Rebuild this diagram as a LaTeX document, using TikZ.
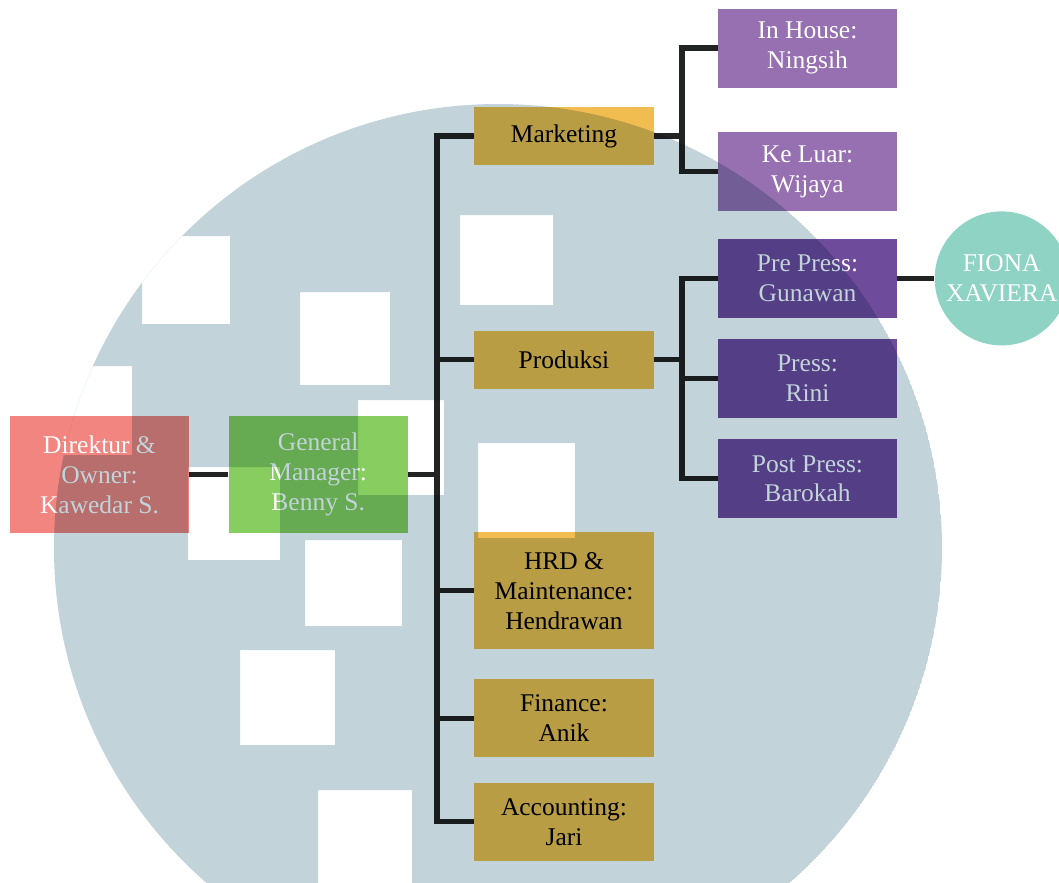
\documentclass[tikz,border=0pt]{standalone}
\usepackage{fontspec}
\setmainfont{Liberation Serif}
\usetikzlibrary{positioning}
\definecolor{ownerred}{HTML}{F2857F}
\definecolor{gmgreen}{HTML}{87CD5F}
\definecolor{deptgold}{HTML}{F2BD50}
\definecolor{mktpurple}{HTML}{9670B0}
\definecolor{prodpurple}{HTML}{6F4B9C}
\definecolor{staffteal}{HTML}{8FD3C4}
\definecolor{linkgrey}{HTML}{222424}
\definecolor{markblue}{HTML}{C2D4DA}
\tikzset{orgbox/.style={
        rectangle,
        inner sep=0pt,
        align=center,
        font=\fontsize{14.5}{17}\selectfont
}}
\tikzset{headbox/.style={
        orgbox,
        minimum width=3.58cm,
        minimum height=2.34cm,
        text=white
}}
\tikzset{deptbox/.style={
        orgbox,
        fill=deptgold,
        minimum width=3.6cm,
        text=black
}}
\tikzset{unitbox/.style={
        orgbox,
        minimum width=3.58cm,
        minimum height=1.58cm,
        text=white
}}
\tikzset{staffcircle/.style={
        orgbox,
        circle,
        fill=staffteal,
        minimum size=2.68cm,
        text=white
}}
\tikzset{orglink/.style={draw=linkgrey,line width=2.9pt}}

\begin{document}
\begin{tikzpicture}
\fill[white] (0,0) rectangle (21.18,-17.66);
\useasboundingbox (0,0) rectangle (21.18,-17.66);
\clip (0,0) rectangle (21.18,-17.66);

\node[headbox, fill=ownerred] (dir) at (1.99,-9.49) {Direktur \&\\ Owner:\\ Kawedar S.};
\node[headbox, fill=gmgreen, right=0.78cm of dir] (gm) {General\\ Manager:\\ Benny S.};

\node[deptbox, minimum height=1.16cm] (mkt) at (11.28,-2.72) {Marketing};
\node[deptbox, minimum height=1.16cm, below=3.3cm of mkt] (prod) {Produksi};
\node[deptbox, minimum height=2.34cm, below=2.86cm of prod] (hrd) {HRD \&\\ Maintenance:\\ Hendrawan};
\node[deptbox, minimum height=1.56cm, below=0.58cm of hrd] (fin) {Finance:\\ Anik};
\node[deptbox, minimum height=1.56cm, below=0.5cm of fin] (acc) {Accounting:\\ Jari};

\node[unitbox, fill=mktpurple] (inh) at (16.15,-0.96) {In House:\\ Ningsih};
\node[unitbox, fill=mktpurple, below=0.88cm of inh] (kel) {Ke Luar:\\ Wijaya};
\node[unitbox, fill=prodpurple, below=0.54cm of kel] (pre) {Pre Press:\\ Gunawan};
\node[unitbox, fill=prodpurple, below=0.4cm of pre] (press) {Press:\\ Rini};
\node[unitbox, fill=prodpurple, below=0.42cm of press] (post) {Post Press:\\ Barokah};
\node[staffcircle, right=0.74cm of pre] (fiona) {FIONA\\ XAVIERA};

% bus lines
\coordinate (spine) at (8.74,0);
\coordinate (branch) at (13.64,0);

\draw[orglink] (dir) -- (gm);
\draw[orglink] (gm) -- (gm.east -| spine);
\draw[orglink] (mkt.west) -| (spine |- acc.west) -- (acc.west);
\draw[orglink] (prod.west) -- (prod.west -| spine);
\draw[orglink] (hrd.west) -- (hrd.west -| spine);
\draw[orglink] (fin.west) -- (fin.west -| spine);

\draw[orglink] (inh.west) -| (branch |- kel.west) -- (kel.west);
\draw[orglink] (mkt.east) -- (mkt.east -| branch);
\draw[orglink] (pre.west) -| (branch |- post.west) -- (post.west);
\draw[orglink] (prod.east) -- (prod.east -| branch);
\draw[orglink] (press.west) -- (press.west -| branch);
\draw[orglink] (pre) -- (fiona);

% watermark
\begin{scope}[blend mode=multiply]
\clip (9.96,-10.96) circle (8.88);
\fill[markblue, even odd rule] (9.96,-10.96) circle (8.88)
    (9.20,-4.30) rectangle (11.06,-6.10)
    (6.00,-5.84) rectangle (7.80,-7.70)
    (2.84,-4.72) rectangle (4.60,-6.48)
    (0.80,-7.32) rectangle (2.64,-9.10)
    (7.16,-8.00) rectangle (8.88,-9.90)
    (9.56,-8.86) rectangle (11.50,-10.76)
    (3.76,-9.34) rectangle (5.60,-11.20)
    (6.10,-10.80) rectangle (8.04,-12.52)
    (4.80,-13.00) rectangle (6.70,-14.90)
    (6.36,-15.80) rectangle (8.24,-17.80);
\end{scope}
\end{tikzpicture}
\end{document}
